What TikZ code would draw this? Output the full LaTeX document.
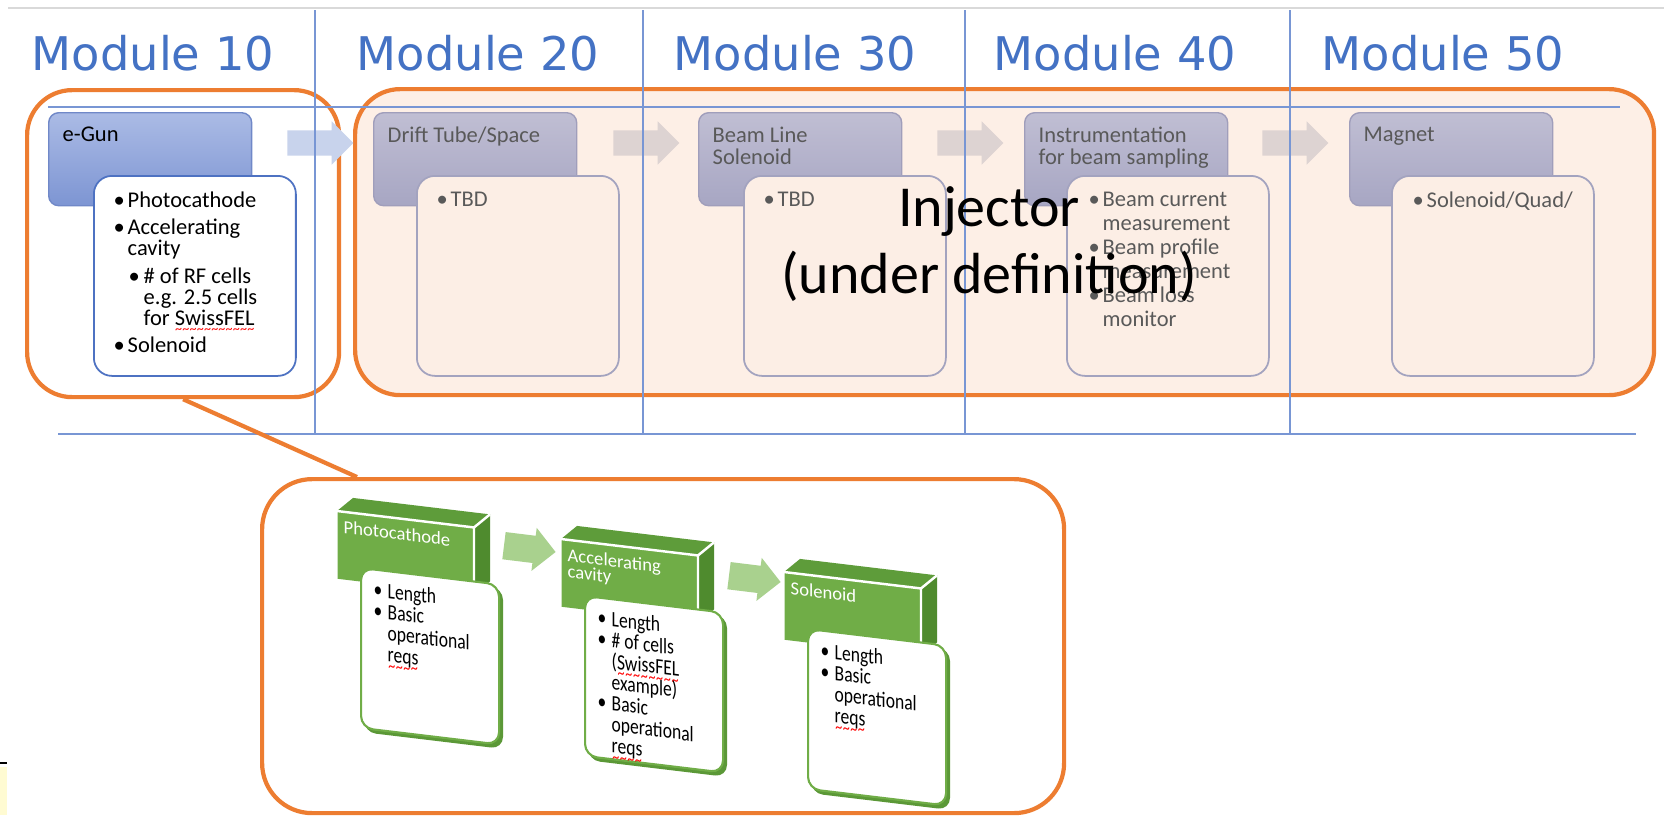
\documentclass[tikz,border=0pt]{standalone}
\usepackage{fontspec}
\setmainfont{Carlito}
\newfontfamily\headfont{DejaVu Sans}
\usepackage{tikz}
\usetikzlibrary{positioning}
\usetikzlibrary{shapes.arrows}

\definecolor{modblue}{HTML}{4472C4}
\definecolor{gridblue}{HTML}{7896D4}
\definecolor{topgray}{HTML}{D9D9D9}
\definecolor{orangeline}{HTML}{ED7D31}
\definecolor{peach}{HTML}{FDEFE6}
\definecolor{hdrtop}{HTML}{C0BED3}
\definecolor{hdrbot}{HTML}{A7A6C3}
\definecolor{hdrline}{HTML}{A09EBB}
\definecolor{detfill}{HTML}{FCEEE5}
\definecolor{detline}{HTML}{A3A3BF}
\definecolor{guntop}{HTML}{ABBBE5}
\definecolor{gunbot}{HTML}{7D95D3}
\definecolor{gunline}{HTML}{7088C8}
\definecolor{gundetline}{HTML}{4E72C2}
\definecolor{graytext}{HTML}{595959}
\definecolor{arrowblue}{HTML}{C8D3EC}
\definecolor{arrowgray}{HTML}{DDD3D2}
\definecolor{greenfront}{HTML}{70AD47}
\definecolor{greentop}{HTML}{5E9C3A}
\definecolor{greenside}{HTML}{4F8B2E}
\definecolor{greendark}{HTML}{5B9837}
\definecolor{greenarrow}{HTML}{A9D18E}
\definecolor{notepad}{HTML}{FFFBD2}

\newcommand{\spell}[1]{\setbox0\hbox{#1}\rlap{\smash{\textcolor{red}{\lower2.2pt\hbox to \wd0{\xleaders\hbox{\fontsize{4}{4}\selectfont\char"7E}\hfil}}}}#1}
\newcommand{\bi}{\makebox[1.4mm][l]{\textbullet}}
\newcommand{\bh}{\hspace*{1.4mm}}
\newcommand{\sbi}{\hspace*{1.5mm}\makebox[1.5mm][l]{\textbullet}}
\newcommand{\sbh}{\hspace*{3mm}}

\begin{document}
\begin{tikzpicture}[x=0.1mm, y=-0.1mm,
    modlabel/.style={anchor=base, inner sep=0, text=modblue, font=\headfont\fontsize{13.2}{15}\selectfont},
    gridline/.style={draw=gridblue, line width=0.5pt},
    orangebox/.style={rectangle, anchor=north west, draw=orangeline, line width=1.2pt, rounded corners=4.5mm, inner sep=0},
    hdrbox/.style={rectangle, anchor=north west, rounded corners=1mm, minimum width=20.3mm, minimum height=9.3mm, draw=hdrline, line width=0.4pt, top color=hdrtop, bottom color=hdrbot, inner sep=0},
    gunhdr/.style={hdrbox, draw=gunline, top color=guntop, bottom color=gunbot},
    detbox/.style={rectangle, anchor=north west, rounded corners=1.8mm, minimum width=20.2mm, minimum height=20mm, draw=detline, line width=0.5pt, fill=detfill, inner sep=0},
    gundet/.style={detbox, draw=gundetline, fill=white},
    hdrtext/.style={anchor=north west, inner sep=0, align=left, text=graytext, font=\fontsize{6.4}{6.3}\selectfont},
    boxtext/.style={anchor=north west, inner sep=0, align=left, text=graytext, font=\fontsize{6.4}{6}\selectfont},
    flowarrow/.style={single arrow, single arrow head extend=0.9mm, inner xsep=0, inner ysep=1.2mm, minimum height=6.6mm, fill=arrowgray},
    gfront/.style={rectangle, anchor=north west, minimum width=13.7mm, minimum height=6.7mm, fill=greenfront, inner sep=0},
    gtitle/.style={anchor=north west, inner sep=0, align=left, text=white, font=\fontsize{5.3}{4.6}\selectfont},
    gdetail/.style={rectangle, anchor=north west, rounded corners=1.2mm, minimum width=13.8mm, minimum height=16mm, draw=greenfront, line width=0.6pt, fill=white, inner sep=0},
    gtext/.style={anchor=north west, inner sep=0, align=left, yscale=1.25, font=\fontsize{5}{4.8}\selectfont},
    garrow/.style={single arrow, single arrow head extend=0.8mm, inner xsep=0, inner ysep=1.3mm, minimum height=5.2mm, fill=greenarrow},
  ]
  \useasboundingbox (0,0) rectangle (1672,815);
  \fill[white] (0,0) rectangle (1672,815);

  %Frames
  \node[orangebox, fill=peach, minimum width=129.9mm, minimum height=30.6mm] (injbox) at (353,87) {};
  \node[orangebox, minimum width=31.2mm, minimum height=30.7mm] (m10box) at (25,88) {};

  %Arrows
  \node[flowarrow, fill=arrowblue] (arr1) at (314,143) {};
  \node[flowarrow] (arr2) at (640,143) {};
  \node[flowarrow] (arr3) at (964,143) {};
  \node[flowarrow] (arr4) at (1289,143) {};

  %Grid
  \draw[topgray, line width=0.7pt] (8,8) -- (1664,8);
  \draw[gridline] (48,107) -- (1620,107);
  \draw[gridline] (58,434) -- (1636,434);
  \foreach \x in {315,643,965,1290}
    \draw[gridline] (\x,10) -- (\x,434);

  %Module titles
  \node[modlabel] (mod10) at (153,70) {Module 10};
  \node[modlabel] (mod20) at (478,70) {Module 20};
  \node[modlabel] (mod30) at (795,70) {Module 30};
  \node[modlabel] (mod40) at (1115,70) {Module 40};
  \node[modlabel] (mod50) at (1443,70) {Module 50};

  %Nodes
  \node[gunhdr] (gun) at (48,112) {};
  \node[hdrbox] (drift) at (373,112) {};
  \node[hdrbox] (beamsol) at (698,112) {};
  \node[hdrbox] (instr) at (1024,112) {};
  \node[hdrbox] (magnet) at (1349,112) {};

  \node[gundet] (gund) [below right=6.3mm and 4.5mm of gun.north west] {};
  \node[detbox] (driftd) [below right=6.3mm and 4.3mm of drift.north west] {};
  \node[detbox] (beamsold) [below right=6.3mm and 4.5mm of beamsol.north west] {};
  \node[detbox] (instrd) [below right=6.3mm and 4.2mm of instr.north west] {};
  \node[detbox] (magnetd) [below right=6.3mm and 4.2mm of magnet.north west] {};

  %Texts
  \node[hdrtext, text=black] (gunt) [below right=1.4mm and 1.4mm of gun.north west] {e-Gun};
  \node[hdrtext] (driftt) [below right=1.4mm and 1.4mm of drift.north west] {Drift Tube/Space};
  \node[hdrtext] (beamsolt) [below right=1.4mm and 1.4mm of beamsol.north west] {Beam Line\\Solenoid};
  \node[hdrtext] (instrt) [below right=1.4mm and 1.4mm of instr.north west] {Instrumentation\\for beam sampling};
  \node[hdrtext] (magnett) [below right=1.4mm and 1.4mm of magnet.north west] {Magnet};

  \node[boxtext, text=black] (gundt) [below right=1.6mm and 2.0mm of gund.north west]
    {\bi Photocathode\\[0.6mm]\bi Accelerating\\\bh cavity\\[0.7mm]\sbi\# of RF cells\\\sbh e.g. 2.5 cells\\\sbh for \spell{SwissFEL}\\[0.6mm]\bi Solenoid};
  \node[boxtext] (driftdt) [below right=1.6mm and 2.0mm of driftd.north west] {\bi TBD};
  \node[boxtext] (beamsoldt) [below right=1.6mm and 2.0mm of beamsold.north west] {\bi TBD};
  \node[boxtext] (instrdt) [below right=1.6mm and 2.2mm of instrd.north west]
    {\bi Beam current\\[0.3mm]\bh measurement\\[0.3mm]\bi Beam profile\\[0.3mm]\bh measurement\\[0.3mm]\bi Beam loss\\[0.3mm]\bh monitor};
  \node[boxtext] (magnetdt) [below right=1.6mm and 2.1mm of magnetd.north west] {\bi Solenoid/Quad/};

  \node[inner sep=0, align=center, font=\fontsize{16.5}{19}\selectfont] (injlabel) at (989,244) {Injector\\(under definition)};

  %Zoom of module 10
  \node[orangebox, rounded corners=5mm, minimum width=80.2mm, minimum height=33.4mm] (zoombox) at (260,477) {};
  \draw[orangeline, line width=1.2pt] (m10box.south) -- ([xshift=9.7mm]zoombox.north west);

  \begin{scope}[shift={(337,511)}, yslant=-0.12, transform shape]
    \fill[greentop] (0,0) -- (16,-15) -- (153,-15) -- (137,0) -- cycle;
    \fill[greenside] (137,0) -- (153,-15) -- (153,52) -- (137,67) -- cycle;
    \node[gfront] (pcfront) at (0,0) {};
    \draw[white, line width=0.7pt] (0,0) -- (137,0) -- (153,-15) (137,0) -- (137,67);
    \node[gtitle] (pctitle) at (6,8) {Photocathode};
    \fill[greendark, rounded corners=1.2mm] (27,57) rectangle (166,218);
    \node[gdetail] (pcdetail) at (23,53) {};
    \node[gtext] (pctext) at (36,65) {\bi Length\\\bi Basic\\\bh operational\\\bh \spell{reqs}};
  \end{scope}

  \begin{scope}[shift={(561,539)}, yslant=-0.12, transform shape]
    \fill[greentop] (0,0) -- (16,-15) -- (153,-15) -- (137,0) -- cycle;
    \fill[greenside] (137,0) -- (153,-15) -- (153,52) -- (137,67) -- cycle;
    \node[gfront] (acfront) at (0,0) {};
    \draw[white, line width=0.7pt] (0,0) -- (137,0) -- (153,-15) (137,0) -- (137,67);
    \node[gtitle] (actitle) at (6,8) {Accelerating\\cavity};
    \fill[greendark, rounded corners=1.2mm] (27,57) rectangle (166,218);
    \node[gdetail] (acdetail) at (23,53) {};
    \node[gtext] (actext) at (36,65) {\bi Length\\\bi \# of cells\\\bh (\spell{SwissFEL}\\\bh example)\\\bi Basic\\\bh operational\\\bh \spell{reqs}};
  \end{scope}

  \begin{scope}[shift={(784,572)}, yslant=-0.12, transform shape]
    \fill[greentop] (0,0) -- (16,-15) -- (153,-15) -- (137,0) -- cycle;
    \fill[greenside] (137,0) -- (153,-15) -- (153,52) -- (137,67) -- cycle;
    \node[gfront] (sofront) at (0,0) {};
    \draw[white, line width=0.7pt] (0,0) -- (137,0) -- (153,-15) (137,0) -- (137,67);
    \node[gtitle] (sotitle) at (6,8) {Solenoid};
    \fill[greendark, rounded corners=1.2mm] (27,57) rectangle (166,218);
    \node[gdetail] (sodetail) at (23,53) {};
    \node[gtext] (sotext) at (36,65) {\bi Length\\\bi Basic\\\bh operational\\\bh \spell{reqs}};
  \end{scope}

  \node[garrow, rotate=-7] (garr1) at (523,548) {};
  \node[garrow, rotate=-7] (garr2) at (748,578) {};

  %Corner marks
  \draw[black, line width=0.6pt] (0,763) -- (7,763);
  \fill[notepad] (0,767) rectangle (7,815);
\end{tikzpicture}
\end{document}
